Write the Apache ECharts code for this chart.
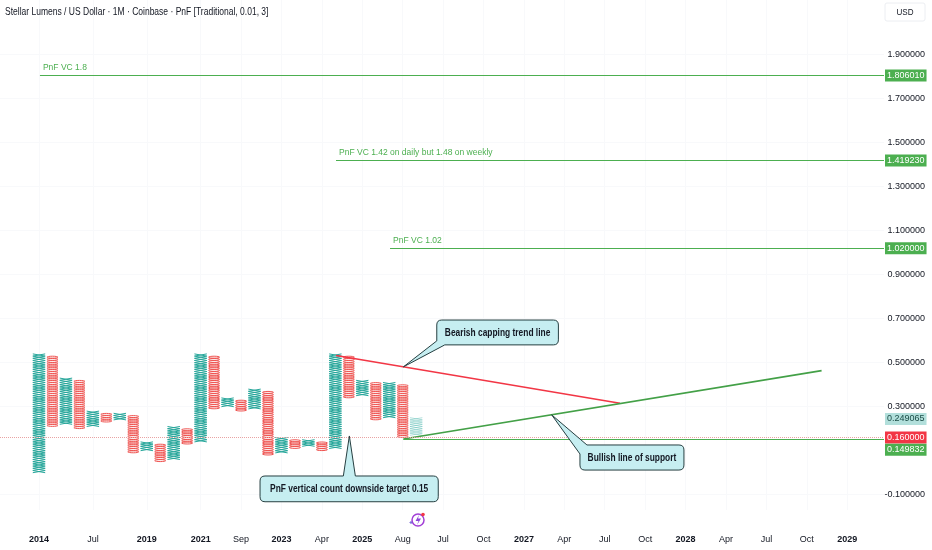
<!DOCTYPE html>
<html><head><meta charset="utf-8">
<script src="https://cdn.jsdelivr.net/npm/echarts@6/dist/echarts.min.js"></script>
<style>html,body{margin:0;padding:0;background:#fff}#c{width:932px;height:550px}</style>
</head><body><div id="c"></div>
<script>
// ---- data ----
const columnType = ['X','O','X','O','X','O','X','O','X','O','X','O','X','O','X','O','X','O','X','O','X','O','X','O','X','O','X','O','X'];
const columnLow  = [0.00,0.21,0.22,0.20,0.21,0.23,0.24,0.09,0.10,0.05,0.06,0.13,0.14,0.29,0.30,0.28,0.29,0.08,0.09,0.11,0.12,0.10,0.11,0.34,0.35,0.24,0.25,0.16,0.17];
const columnHigh = [0.54,0.53,0.43,0.42,0.28,0.27,0.27,0.26,0.14,0.13,0.21,0.20,0.54,0.53,0.34,0.33,0.38,0.37,0.16,0.15,0.15,0.14,0.54,0.53,0.42,0.41,0.41,0.40,0.25];
const currentColumn = 28;
const boxSize = 0.01;
const timeLabelIndex = [0,4,8,12,15,18,21,24,27,30,33,36,39,42,45,48,51,54,57,60];
const timeLabelText  = ['2014','Jul','2019','2021','Sep','2023','Apr','2025','Aug','Jul','Oct','2027','Apr','Jul','Oct','2028','Apr','Jul','Oct','2029'];
const priceTicks = [-0.1,0.3,0.5,0.7,0.9,1.1,1.3,1.5,1.7,1.9];
const levelValues = [1.806010, 1.419230, 1.020000];
const levelStart  = [0.07, 22.05, 26.06];
const levelText   = ['PnF VC 1.8','PnF VC 1.42 on daily but 1.48 on weekly','PnF VC 1.02'];
const lastPrice = 0.160000;
const currentPrice = 0.249065;
const supportPrice = 0.149832;
const bearLine = [[22.05,0.533],[43.13,0.3155]];
const bullLine = [[27.05,0.153],[58.1,0.464]];
const callouts = [
  {text:'Bearish capping trend line', apex:[27.05,0.481], box:[[29.53,0.694],[38.56,0.581]], pointer:'bottomLeft'},
  {text:'Bullish line of support', apex:[38.06,0.263], box:[[40.16,0.126],[47.88,0.012]], pointer:'topLeft'},
  {text:'PnF vertical count downside target 0.15', apex:[23.04,0.167], box:[[16.41,-0.015],[29.64,-0.132]], pointer:'top'}
];
const titleText = 'Stellar Lumens / US Dollar · 1M · Coinbase · PnF [Traditional, 0.01, 3]';

// ---- layout ----
const F = "'Liberation Sans',Arial,sans-serif";
const xMin = -2.8953, xMax = 62.732;
const yMax = 2.14864, yMin = -0.16955;
const GREEN='#26a69a', RED='#ef5350', LVL='#4caf50';

const chart = echarts.init(document.getElementById('c'), null, {renderer:'canvas'});
const pnfData = columnType.map((t,i)=>[i, columnLow[i], columnHigh[i], t==='X'?1:0]);

function fmt(v){return v.toFixed(6);}
const priceLbl = (txt,bg,col,off)=>({show:true,position:'end',distance:1,offset:off||[0,0],formatter:txt,color:col||'#fff',backgroundColor:bg,padding:[1,2,0,2],fontSize:9,fontFamily:F,lineHeight:11});

const levelMarks = [];
levelValues.forEach((v,k)=>{
  levelMarks.push([{coord:[levelStart[k],v], lineStyle:{color:LVL,width:1,type:'solid'}, label:priceLbl(fmt(v),LVL)},{coord:[xMax,v]}]);
  levelMarks.push([{coord:[levelStart[k],v], lineStyle:{color:'rgba(0,0,0,0)',width:0},
     label:{show:true,position:'insideStartTop',distance:3,formatter:levelText[k],color:LVL,fontSize:8.5,fontFamily:F}},
     {coord:[xMax,v]}]);
});
levelMarks.push([{coord:[xMin,lastPrice], lineStyle:{color:'#e9a3a3',width:1,type:'dotted'}, label:priceLbl(fmt(lastPrice),'#f23645')},{coord:[xMax,lastPrice]}]);
levelMarks.push([{coord:[bullLine[0][0],supportPrice], lineStyle:{color:LVL,width:1,type:'solid'}, label:priceLbl(fmt(supportPrice),LVL,'#fff',[0,10])},{coord:[xMax,supportPrice]}]);
levelMarks.push([{coord:[xMax-0.01,currentPrice], lineStyle:{color:'rgba(0,0,0,0)',width:0}, label:priceLbl(fmt(currentPrice),'#b2dfdb','#1b4d47',[0,1])},{coord:[xMax,currentPrice]}]);

function calloutItem(params, api){
  const c=callouts[params.dataIndex];
  const a=api.coord(c.apex), p1=api.coord(c.box[0]), p2=api.coord(c.box[1]);
  const L=p1[0],T=p1[1],R=p2[0],B=p2[1],r=5;
  let d;
  if(c.pointer==='bottomLeft'){
    d=`M${L+r} ${T}H${R-r}Q${R} ${T} ${R} ${T+r}V${B-r}Q${R} ${B} ${R-r} ${B}H${L+8}L${a[0]} ${a[1]}L${L} ${B-4}V${T+r}Q${L} ${T} ${L+r} ${T}Z`;
  }else if(c.pointer==='topLeft'){
    d=`M${L+7} ${T}H${R-r}Q${R} ${T} ${R} ${T+r}V${B-r}Q${R} ${B} ${R-r} ${B}H${L+r}Q${L} ${B} ${L} ${B-r}V${T+9}L${a[0]} ${a[1]}Z`;
  }else{
    d=`M${L+r} ${T}H${a[0]-6}L${a[0]} ${a[1]}L${a[0]+6} ${T}H${R-r}Q${R} ${T} ${R} ${T+r}V${B-r}Q${R} ${B} ${R-r} ${B}H${L+r}Q${L} ${B} ${L} ${B-r}V${T+r}Q${L} ${T} ${L+r} ${T}Z`;
  }
  return {type:'group',children:[
    {type:'path',shape:{pathData:d},style:{fill:'#c6eef1',stroke:'#263f41',lineWidth:1}},
    {type:'text',x:(L+R)/2,y:(T+B)/2+0.5,scaleX:0.8,style:{text:c.text,fontFamily:F,fontSize:10.5,fontWeight:'bold',fill:'#131722',align:'center',verticalAlign:'middle'}}
  ]};
}

const option = {
  animation:false,
  backgroundColor:'#fff',
  grid:{left:0,right:48,top:0,bottom:40,containLabel:false},
  xAxis:{type:'value',min:xMin,max:xMax,
    axisLine:{show:false},axisTick:{show:false,customValues:timeLabelIndex},
    splitLine:{show:true,lineStyle:{color:'#f8f9fb'}},
    axisLabel:{customValues:timeLabelIndex,margin:25,fontFamily:F,fontSize:9,color:'#131722',
      formatter:(v)=>{const t=timeLabelText[timeLabelIndex.indexOf(Math.round(v))]||''; return /^\d{4}$/.test(t)?'{y|'+t+'}':'{m|'+t+'}';},
      rich:{y:{fontWeight:'bold',fontFamily:F,fontSize:9,color:'#131722'},m:{fontFamily:F,fontSize:9,color:'#131722'}}}
  },
  yAxis:{type:'value',position:'right',min:yMin,max:yMax,
    axisLine:{show:false},axisTick:{show:false,customValues:priceTicks},
    splitLine:{show:true,lineStyle:{color:'#f8f9fb'}},
    axisLabel:{customValues:priceTicks,align:'right',margin:41,fontFamily:F,fontSize:9,color:'#131722',formatter:(v)=>fmt(v)}
  },
  series:[
    {type:'custom',data:pnfData,encode:{x:0,y:[1,2]},clip:true,silent:true,z:3,
      renderItem(params,api){
        const i=api.value(0), lo=api.value(1), hi=api.value(2), isX=api.value(3)===1;
        const n=Math.round((hi-lo)/boxSize);
        const xc=api.coord([i,lo])[0];
        const step=api.size([1,0])[0];
        const h=api.size([0,boxSize])[1];
        const faint=params.dataIndex===currentColumn;
        if(isX){
          const hw=step*0.46; let d='';
          for(let k=0;k<n;k++){
            const yb=api.coord([i,lo+k*boxSize])[1], yt=yb-h;
            d+='M'+(xc-hw)+' '+yt+'L'+(xc+hw)+' '+yb+'M'+(xc+hw)+' '+yt+'L'+(xc-hw)+' '+yb;
          }
          return {type:'path',shape:{pathData:d},style:{fill:null,stroke:faint?'rgba(38,166,154,0.35)':GREEN,lineWidth:1}};
        }
        const ch=[]; const rx=step*0.41;
        for(let k=0;k<n;k++){
          const yb=api.coord([i,lo+k*boxSize])[1];
          ch.push({type:'ellipse',shape:{cx:xc,cy:yb-h/2,rx:rx,ry:h*0.45},style:{fill:null,stroke:RED,lineWidth:1}});
        }
        return {type:'group',children:ch};
      }
    },
    {type:'line',data:bearLine,symbol:'none',silent:true,z:4,lineStyle:{color:'#f23645',width:1.6}},
    {type:'line',data:bullLine,symbol:'none',silent:true,z:4,lineStyle:{color:'#43a047',width:1.6}},
    {type:'line',data:[],silent:true,z:2,markLine:{silent:true,symbol:['none','none'],animation:false,data:levelMarks}},
    {type:'custom',data:callouts.map(c=>c.apex),encode:{x:0,y:1},clip:false,silent:true,z:10,renderItem:calloutItem}
  ],
  graphic:[
    {type:'text',x:5,y:12,scaleX:0.81,style:{text:titleText,fontFamily:F,fontSize:10.5,fill:'#131722',verticalAlign:'middle'},z:20},
    {type:'rect',shape:{x:885,y:3,width:40,height:18,r:2},style:{fill:'#fff',stroke:'#eceef2',lineWidth:1},z:20},
    {type:'text',x:905,y:12,scaleX:0.85,style:{text:'USD',fontFamily:F,fontSize:9.5,fill:'#131722',align:'center',verticalAlign:'middle'},z:21},
    {type:'circle',shape:{cx:418,cy:520,r:6},style:{fill:null,stroke:'#a23fd6',lineWidth:1.5},z:20},
    {type:'polygon',shape:{points:[[419,515],[415.5,521],[418.5,521],[417,525],[421,518.5],[418,518.5]]},style:{fill:'#8e44d9'},z:21},
    {type:'circle',shape:{cx:423,cy:514.5,r:1.8},style:{fill:'#f23645'},z:22},
    {type:'polygon',shape:{points:[[410,522.5],[411,521.5],[412,522.5],[411,523.5]]},style:{fill:'#6a5cd6',stroke:'#6a5cd6',lineWidth:1},z:21}
  ]
};
chart.setOption(option);
</script></body></html>
